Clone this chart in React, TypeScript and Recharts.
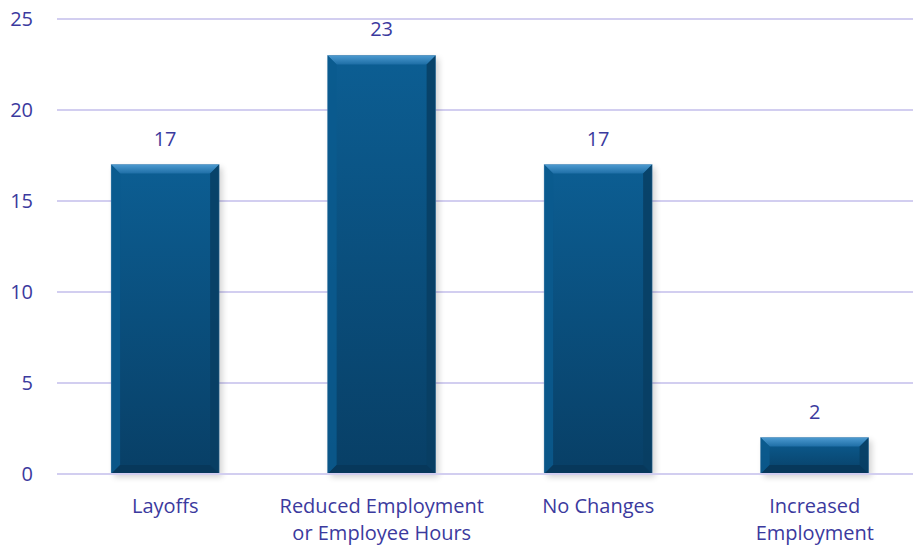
import React from 'react';
import { BarChart, Bar, XAxis, YAxis, CartesianGrid, LabelList } from 'recharts';

// категории и значения
const categories = ['Layoffs', 'Reduced Employment or Employee Hours', 'No Changes', 'Increased Employment'];
const categoryLines = [['Layoffs'], ['Reduced Employment', 'or Employee Hours'], ['No Changes'], ['Increased', 'Employment']];
const responses = [17, 23, 17, 2];
const yTicks = [0, 5, 10, 15, 20, 25];

const textColor = '#3B3A9E';
const gridColor = '#D2CEF0';
const fontFamily = 'Open Sans, sans-serif';

const data = categories.map((name, i) => ({ name, idx: i, value: responses[i] }));

const BevelBar = (props: any) => {
  const { x, y, width, height } = props;
  if (!height || height <= 0) return null;
  const b = Math.min(9, height / 3);
  return (
    <g>
      <rect x={x + 3} y={y + 3} width={width} height={height} fill="#000" opacity={0.18} filter="url(#barShadow)" />
      <rect x={x} y={y} width={width} height={height} fill="url(#bodyGrad)" />
      {/* верхняя грань */}
      <polygon points={`${x},${y} ${x + width},${y} ${x + width - b},${y + b} ${x + b},${y + b}`} fill="url(#topGrad)" />
      {/* левая грань */}
      <polygon points={`${x},${y} ${x + b},${y + b} ${x + b},${y + height - b} ${x},${y + height}`} fill="#0B5A8E" opacity={0.85} />
      {/* правая грань */}
      <polygon points={`${x + width},${y} ${x + width},${y + height} ${x + width - b},${y + height - b} ${x + width - b},${y + b}`} fill="#083E63" opacity={0.85} />
      {/* нижняя грань */}
      <polygon points={`${x},${y + height} ${x + width},${y + height} ${x + width - b},${y + height - b} ${x + b},${y + height - b}`} fill="#07385B" />
      <rect x={x} y={y} width={width} height={height} fill="none" stroke="#5E93BC" strokeWidth={0.6} opacity={0.6} />
    </g>
  );
};

const CategoryTick = (props: any) => {
  const { x, y, payload } = props;
  const lines = categoryLines[payload.index] || [payload.value];
  return (
    <text x={x} y={y} textAnchor="middle" fill={textColor} fontSize={20} fontFamily={fontFamily}>
      {lines.map((line, i) => (
        <tspan key={i} x={x} dy={i === 0 ? 31 : 27}>{line}</tspan>
      ))}
    </text>
  );
};

export default function App() {
  return (
    <div style={{ position: 'absolute', left: 0, top: 0, width: 913, height: 546, overflow: 'hidden', background: '#fff' }}>
      <BarChart
        width={923}
        height={546}
        data={data}
        margin={{ top: 19, right: 0, left: 0, bottom: 0 }}
        barCategoryGap="25%"
      >
        <defs>
          <linearGradient id="bodyGrad" x1="0" y1="0" x2="0" y2="1">
            <stop offset="0%" stopColor="#0C5E93" />
            <stop offset="100%" stopColor="#083F66" />
          </linearGradient>
          <linearGradient id="topGrad" x1="0" y1="0" x2="0" y2="1">
            <stop offset="0%" stopColor="#4C9AD0" />
            <stop offset="100%" stopColor="#1E6EA6" />
          </linearGradient>
          <filter id="barShadow" x="-20%" y="-20%" width="140%" height="140%">
            <feGaussianBlur stdDeviation="3" />
          </filter>
        </defs>
        <CartesianGrid vertical={false} stroke={gridColor} strokeWidth={2} />
        <XAxis
          dataKey="name"
          height={72}
          tick={<CategoryTick />}
          tickLine={false}
          axisLine={{ stroke: gridColor, strokeWidth: 2 }}
          interval={0}
        />
        <YAxis
          width={57}
          domain={[0, 25]}
          ticks={yTicks}
          tickLine={false}
          axisLine={false}
          tickSize={0}
          tickMargin={24}
          tick={{ fill: textColor, fontSize: 20, fontFamily }}
        />
        <Bar dataKey="value" shape={<BevelBar />} isAnimationActive={false}>
          <LabelList dataKey="value" position="top" offset={19} fill={textColor} fontSize={20} fontFamily={fontFamily} />
        </Bar>
      </BarChart>
    </div>
  );
}
